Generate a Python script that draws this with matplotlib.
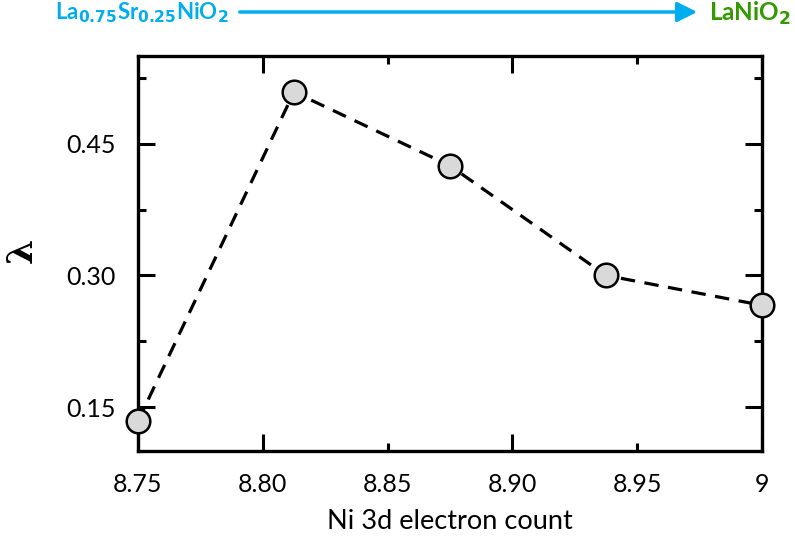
import matplotlib
matplotlib.use("Agg")
import matplotlib.pyplot as plt
from matplotlib.ticker import FixedLocator

electron_count = [8.75, 8.8125, 8.875, 8.9375, 9.0]
lam = [0.134, 0.509, 0.425, 0.300, 0.266]
xticks_major = [8.75, 8.80, 8.90, 9.0]
xticks_minor = [8.85, 8.95]
xtick_labels = {8.75: "8.75", 8.80: "8.80", 8.85: "8.85", 8.90: "8.90", 8.95: "8.95", 9.0: "9"}
yticks_major = [0.15, 0.30, 0.45]
yticks_minor = [0.225, 0.375, 0.525]

plt.rcParams['font.family'] = ['Lato', 'DejaVu Sans']

fig = plt.figure(figsize=(7.95, 5.42), dpi=100)
ax = fig.add_axes([138/795, 1-451/542, 624/795, 395/542])

ax.plot(electron_count, lam, color='black', lw=2.3, ls=(0, (4.5, 3)),
        marker='o', markersize=17, markerfacecolor='#d9d9d9',
        markeredgecolor='black', markeredgewidth=1.8, clip_on=False, zorder=3)

ax.set_xlim(8.75, 9.0)
ax.set_ylim(0.10, 0.55)

ax.xaxis.set_major_locator(FixedLocator(xticks_major))
ax.xaxis.set_minor_locator(FixedLocator(xticks_minor))
ax.set_xticklabels([xtick_labels[v] for v in xticks_major])
ax.set_xticklabels([xtick_labels[v] for v in xticks_minor], minor=True)
ax.yaxis.set_major_locator(FixedLocator(yticks_major))
ax.yaxis.set_minor_locator(FixedLocator(yticks_minor))
ax.set_yticklabels(["0.15", "0.30", "0.45"])

for which, length in (('major', 12), ('minor', 6)):
    ax.tick_params(axis='both', which=which, direction='in', length=length, width=2.2,
                   top=True, right=True, labelsize=18, pad=16, colors='black')
ax.tick_params(axis='y', which='both', pad=16)
for s in ax.spines.values():
    s.set_linewidth(2.4)

ax.set_xlabel("Ni 3d electron count", fontsize=19.5, labelpad=9)
fig.text(22/795, 1-250/542, "λ", rotation=90, fontsize=26, family='DejaVu Serif',
         fontweight='bold', ha='center', va='center')

# top annotation
fig.text(55/795, 1-13/542, r"La$_\mathbf{0.75}$Sr$_\mathbf{0.25}$NiO$_\mathbf{2}$",
         color='#00aeef', fontsize=16, fontweight='bold', family='Lato', ha='left', va='center')
fig.text(709/795, 1-13/542, r"LaNiO$_\mathbf{2}$", color='#339900', fontsize=17.5,
         fontweight='bold', family='Lato', ha='left', va='center')
fig.add_artist(matplotlib.patches.FancyArrowPatch(
    (237/795, 1-12/542), (700/795, 1-12/542), transform=fig.transFigure,
    arrowstyle='-|>,head_length=8,head_width=4', color='#00aeef', lw=2.5, mutation_scale=1.5))

fig.savefig("out.png", dpi=100)
